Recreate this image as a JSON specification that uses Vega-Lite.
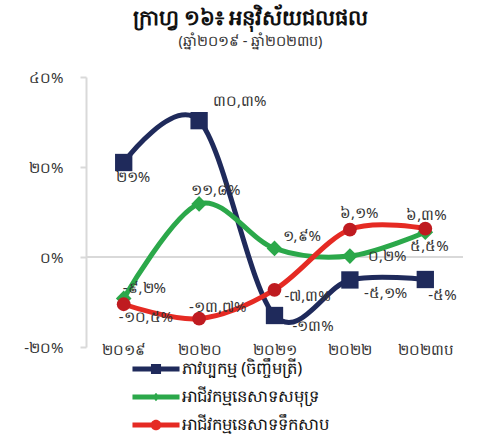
{
  "$schema": "https://vega.github.io/schema/vega-lite/v6.json",
  "width": 377,
  "height": 270,
  "autosize": {"type": "none"},
  "padding": {"left": 86, "top": 77, "right": 40, "bottom": 89},
  "background": "white",
  "config": {
    "view": {"stroke": null},
    "font": "Noto Sans",
    "text": {"font": "Noto Sans"}
  },
  "title": {
    "text": "ក្រាហ្វ ១៦៖ អនុវិស័យជលផល",
    "subtitle": "(ឆ្នាំ២០១៩ - ឆ្នាំ២០២៣ប)",
    "anchor": "middle",
    "dx": -24,
    "fontSize": 21,
    "fontWeight": "bold",
    "color": "#111",
    "subtitleFontSize": 14.5,
    "subtitleColor": "#333",
    "subtitlePadding": 6,
    "offset": 22
  },
  "data": {
    "values": [
      {"series": "ភាវប្បកម្ម (ចិញ្ចឹមត្រី)", "year": "២០១៩", "value": 21, "label": "២១%"},
      {"series": "ភាវប្បកម្ម (ចិញ្ចឹមត្រី)", "year": "២០២០", "value": 30.3, "label": "៣០,៣%"},
      {"series": "ភាវប្បកម្ម (ចិញ្ចឹមត្រី)", "year": "២០២១", "value": -13, "label": "-១៣%"},
      {"series": "ភាវប្បកម្ម (ចិញ្ចឹមត្រី)", "year": "២០២២", "value": -5.1, "label": "-៥,១%"},
      {"series": "ភាវប្បកម្ម (ចិញ្ចឹមត្រី)", "year": "២០២៣ប", "value": -5, "label": "-៥%"},
      {"series": "អាជីវកម្មនេសាទសមុទ្រ", "year": "២០១៩", "value": -9.2, "label": "-៩,២%"},
      {"series": "អាជីវកម្មនេសាទសមុទ្រ", "year": "២០២០", "value": 11.8, "label": "១១,៨%"},
      {"series": "អាជីវកម្មនេសាទសមុទ្រ", "year": "២០២១", "value": 1.9, "label": "១,៩%"},
      {"series": "អាជីវកម្មនេសាទសមុទ្រ", "year": "២០២២", "value": 0.2, "label": "០,២%"},
      {"series": "អាជីវកម្មនេសាទសមុទ្រ", "year": "២០២៣ប", "value": 5.5, "label": "៥,៥%"},
      {"series": "អាជីវកម្មនេសាទទឹកសាប", "year": "២០១៩", "value": -10.5, "label": "-១០,៥%"},
      {"series": "អាជីវកម្មនេសាទទឹកសាប", "year": "២០២០", "value": -13.7, "label": "-១៣,៧%"},
      {"series": "អាជីវកម្មនេសាទទឹកសាប", "year": "២០២១", "value": -7.3, "label": "-៧,៣%"},
      {"series": "អាជីវកម្មនេសាទទឹកសាប", "year": "២០២២", "value": 6.1, "label": "៦,១%"},
      {"series": "អាជីវកម្មនេសាទទឹកសាប", "year": "២០២៣ប", "value": 6.3, "label": "៦,៣%"}
    ]
  },
  "encoding": {
    "x": {
      "field": "year", "type": "ordinal",
      "sort": ["២០១៩", "២០២០", "២០២១", "២០២២", "២០២៣ប"],
      "scale": {"type": "point", "padding": 0.5},
      "axis": {"title": null, "domain": false, "ticks": false, "labelAngle": 0, "labelFontSize": 15, "labelColor": "#333", "labelBaseline": "middle", "labelPadding": 2}
    },
    "y": {
      "field": "value", "type": "quantitative",
      "scale": {"domain": [-20, 40], "nice": false},
      "axis": {
        "title": null, "grid": false, "values": [-20, 0, 20, 40],
        "labelExpr": "datum.value == 40 ? '៤០%' : datum.value == 20 ? '២០%' : datum.value == 0 ? '០%' : '-២០%'",
        "domainColor": "#d9d9d9", "domainWidth": 2, "tickColor": "#d9d9d9", "tickWidth": 2, "tickSize": 6,
        "labelFontSize": 15, "labelColor": "#333", "labelPadding": 17
      }
    }
  },
  "layer": [
    {
      "mark": {"type": "rule", "color": "#d9d9d9", "strokeWidth": 2},
      "encoding": {"x": {"value": 0}, "x2": {"value": 377}, "y": {"datum": 0}}
    },
    {
      "mark": {"type": "line", "interpolate": "cardinal", "strokeWidth": 5},
      "encoding": {
        "color": {"field": "series", "type": "nominal", "legend": null,
          "scale": {"domain": ["ភាវប្បកម្ម (ចិញ្ចឹមត្រី)", "អាជីវកម្មនេសាទសមុទ្រ", "អាជីវកម្មនេសាទទឹកសាប"], "range": ["#1F2A5B", "#2BA84A", "#E52A23"]}}
      }
    },
    {
      "mark": {"type": "point", "filled": true, "opacity": 1},
      "encoding": {
        "color": {"field": "series", "type": "nominal", "legend": null,
          "scale": {"domain": ["ភាវប្បកម្ម (ចិញ្ចឹមត្រី)", "អាជីវកម្មនេសាទសមុទ្រ", "អាជីវកម្មនេសាទទឹកសាប"], "range": ["#1F2A5B", "#2BA84A", "#BF1B20"]}},
        "shape": {"field": "series", "type": "nominal", "legend": null,
          "scale": {"domain": ["ភាវប្បកម្ម (ចិញ្ចឹមត្រី)", "អាជីវកម្មនេសាទសមុទ្រ", "អាជីវកម្មនេសាទទឹកសាប"], "range": ["square", "diamond", "circle"]}},
        "size": {"field": "series", "type": "nominal", "legend": null,
          "scale": {"domain": ["ភាវប្បកម្ម (ចិញ្ចឹមត្រី)", "អាជីវកម្មនេសាទសមុទ្រ", "អាជីវកម្មនេសាទទឹកសាប"], "range": [300, 190, 280]}}
      }
    },
    {
      "mark": {"type": "point", "filled": true, "opacity": 0},
      "encoding": {
        "color": {"field": "series", "type": "nominal",
          "scale": {"domain": ["ភាវប្បកម្ម (ចិញ្ចឹមត្រី)", "អាជីវកម្មនេសាទសមុទ្រ", "អាជីវកម្មនេសាទទឹកសាប"], "range": ["#1F2A5B", "#2BA84A", "#E52A23"]},
          "legend": {"orient": "none", "legendX": 58, "legendY": 280, "title": null, "symbolSize": 576, "symbolOpacity": 1, "symbolStrokeWidth": 0, "labelOffset": 14, "rowPadding": 7, "labelFontSize": 16.5, "labelLimit": 0, "labelColor": "#111", "padding": 0}},
        "shape": {"field": "series", "type": "nominal",
          "scale": {"domain": ["ភាវប្បកម្ម (ចិញ្ចឹមត្រី)", "អាជីវកម្មនេសាទសមុទ្រ", "អាជីវកម្មនេសាទទឹកសាប"],
            "range": [
              "M-1.96,-0.21H1.96V0.21H-1.96Z M-0.42,-0.42H0.42V0.42H-0.42Z",
              "M-1.96,-0.21H1.96V0.21H-1.96Z M0,-0.36L0.3,0L0,0.36L-0.3,0Z",
              "M-1.96,-0.21H1.96V0.21H-1.96Z M-0.44,0A0.44,0.44,0,1,1,0.44,0A0.44,0.44,0,1,1,-0.44,0Z"
            ]},
          "legend": {"orient": "none", "legendX": 58, "legendY": 280, "title": null, "symbolSize": 576, "symbolOpacity": 1, "symbolStrokeWidth": 0, "labelOffset": 14, "rowPadding": 7, "labelFontSize": 16.5, "labelLimit": 0, "labelColor": "#111", "padding": 0}}
      }
    },
    {"transform": [{"filter": "datum.value == 21"}], "mark": {"type": "text", "align": "left", "baseline": "middle", "dx": -8, "dy": 14, "fontSize": 15, "color": "#333"}, "encoding": {"text": {"field": "label"}}},
    {"transform": [{"filter": "datum.value == 30.3"}], "mark": {"type": "text", "align": "left", "baseline": "middle", "dx": 14, "dy": -20, "fontSize": 15, "color": "#333"}, "encoding": {"text": {"field": "label"}}},
    {"transform": [{"filter": "datum.value == -13"}], "mark": {"type": "text", "align": "left", "baseline": "middle", "dx": 18, "dy": 10, "fontSize": 15, "color": "#333"}, "encoding": {"text": {"field": "label"}}},
    {"transform": [{"filter": "datum.value == -5.1"}], "mark": {"type": "text", "align": "left", "baseline": "middle", "dx": 14, "dy": 13, "fontSize": 15, "color": "#333"}, "encoding": {"text": {"field": "label"}}},
    {"transform": [{"filter": "datum.value == -5"}], "mark": {"type": "text", "align": "left", "baseline": "middle", "dx": 3, "dy": 15, "fontSize": 15, "color": "#333"}, "encoding": {"text": {"field": "label"}}},
    {"transform": [{"filter": "datum.value == -9.2"}], "mark": {"type": "text", "align": "left", "baseline": "middle", "dx": -1, "dy": -10, "fontSize": 15, "color": "#333"}, "encoding": {"text": {"field": "label"}}},
    {"transform": [{"filter": "datum.value == 11.8"}], "mark": {"type": "text", "align": "left", "baseline": "middle", "dx": -8, "dy": -14, "fontSize": 15, "color": "#333"}, "encoding": {"text": {"field": "label"}}},
    {"transform": [{"filter": "datum.value == 1.9"}], "mark": {"type": "text", "align": "left", "baseline": "middle", "dx": 8, "dy": -12, "fontSize": 15, "color": "#333"}, "encoding": {"text": {"field": "label"}}},
    {"transform": [{"filter": "datum.value == 0.2"}], "mark": {"type": "text", "align": "left", "baseline": "middle", "dx": 18, "dy": 0, "fontSize": 15, "color": "#333"}, "encoding": {"text": {"field": "label"}}},
    {"transform": [{"filter": "datum.value == 5.5"}], "mark": {"type": "text", "align": "left", "baseline": "middle", "dx": -15, "dy": 14, "fontSize": 15, "color": "#333"}, "encoding": {"text": {"field": "label"}}},
    {"transform": [{"filter": "datum.value == -10.5"}], "mark": {"type": "text", "align": "left", "baseline": "middle", "dx": -5, "dy": 13, "fontSize": 15, "color": "#333"}, "encoding": {"text": {"field": "label"}}},
    {"transform": [{"filter": "datum.value == -13.7"}], "mark": {"type": "text", "align": "left", "baseline": "middle", "dx": -10, "dy": -12, "fontSize": 15, "color": "#333"}, "encoding": {"text": {"field": "label"}}},
    {"transform": [{"filter": "datum.value == -7.3"}], "mark": {"type": "text", "align": "left", "baseline": "middle", "dx": 10, "dy": 6, "fontSize": 15, "color": "#333"}, "encoding": {"text": {"field": "label"}}},
    {"transform": [{"filter": "datum.value == 6.1"}], "mark": {"type": "text", "align": "left", "baseline": "middle", "dx": -10, "dy": -17, "fontSize": 15, "color": "#333"}, "encoding": {"text": {"field": "label"}}},
    {"transform": [{"filter": "datum.value == 6.3"}], "mark": {"type": "text", "align": "left", "baseline": "middle", "dx": -19, "dy": -14, "fontSize": 15, "color": "#333"}, "encoding": {"text": {"field": "label"}}}
  ],
  "resolve": {"scale": {"color": "independent", "shape": "independent", "size": "independent"}}
}
